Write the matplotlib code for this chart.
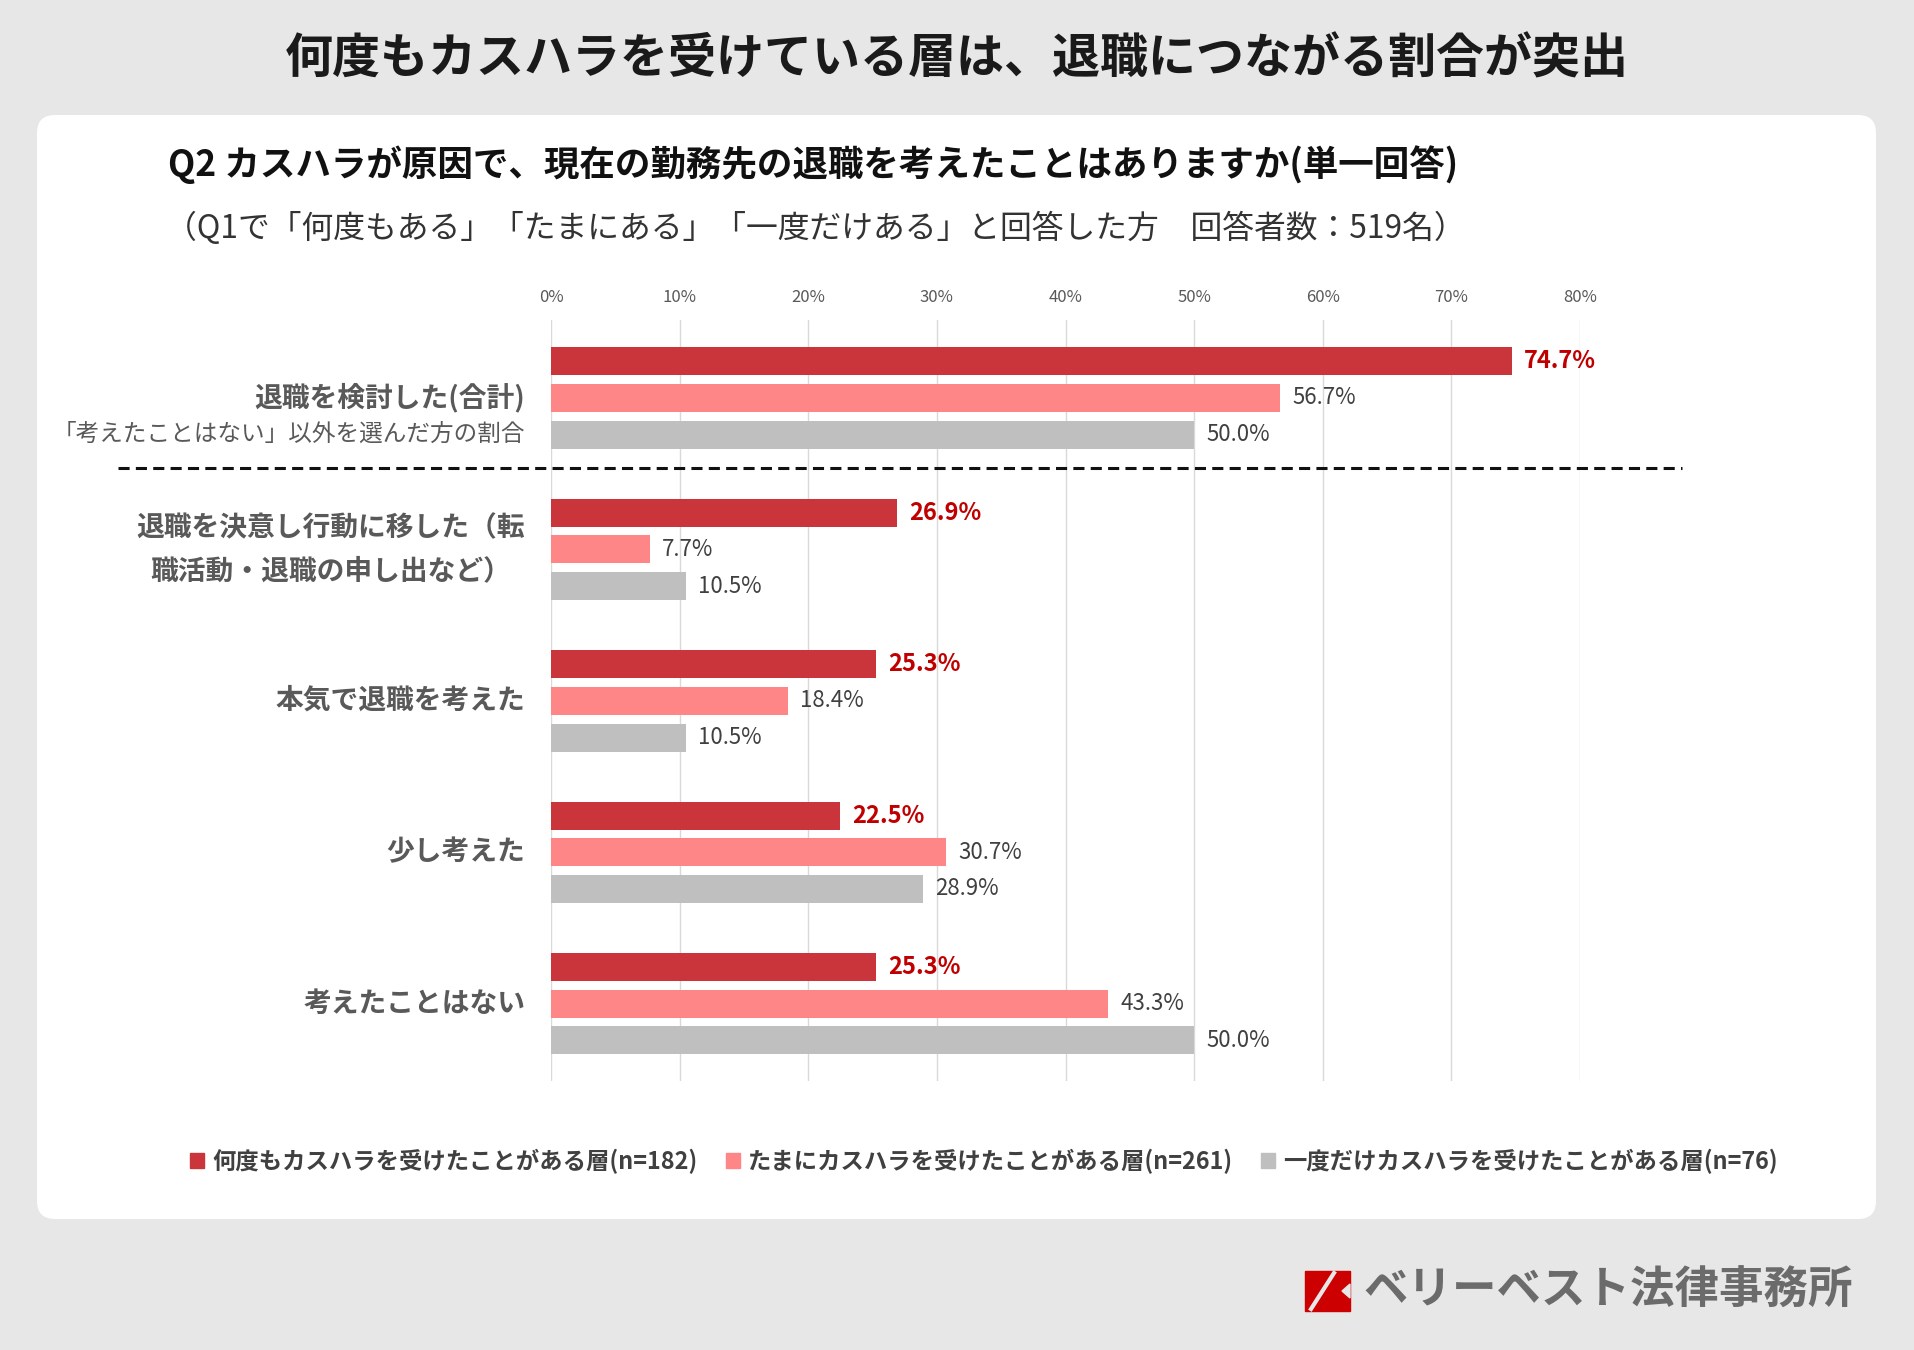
import numpy as np
import matplotlib
matplotlib.use("Agg")
import matplotlib.pyplot as plt
from matplotlib.patches import FancyBboxPatch, Rectangle, Polygon
from matplotlib.lines import Line2D

plt.rcParams['font.family'] = ['Noto Sans CJK JP', 'DejaVu Sans']
plt.rcParams['lines.scale_dashes'] = False

# %%
categories = ['退職を検討した(合計)',
              '退職を決意し行動に移した（転\n職活動・退職の申し出など）',
              '本気で退職を考えた',
              '少し考えた',
              '考えたことはない']
often = [74.7, 26.9, 25.3, 22.5, 25.3]
sometimes = [56.7, 7.7, 18.4, 30.7, 43.3]
once = [50.0, 10.5, 10.5, 28.9, 50.0]
series_labels = ['何度もカスハラを受けたことがある層(n=182)',
                 'たまにカスハラを受けたことがある層(n=261)',
                 '一度だけカスハラを受けたことがある層(n=76)']
xticks = [0, 10, 20, 30, 40, 50, 60, 70, 80]

C_RED = '#C9353A'
C_PINK = '#FF8686'
C_GRAY = '#BFBFBF'
W, H = 1915, 1350


def fx(x):
    return x / W


def fy(y):
    return 1 - y / H


# %%
fig = plt.figure(figsize=(W / 100, H / 100), dpi=100, facecolor='#E7E7E7')

panel = FancyBboxPatch((0.37, 1.31), 18.39, 11.04,
                       boxstyle='round,pad=0,rounding_size=0.18',
                       transform=fig.dpi_scale_trans,
                       facecolor='white', edgecolor='none', zorder=0)
fig.add_artist(panel)

fig.text(fx(957), fy(59), '何度もカスハラを受けている層は、退職につながる割合が突出',
         ha='center', va='center', fontsize=34.6, fontweight='bold', color='#1A1A1A')
fig.text(fx(168), fy(165), 'Q2 カスハラが原因で、現在の勤務先の退職を考えたことはありますか(単一回答)',
         ha='left', va='center', fontsize=25.6, fontweight='bold', color='#111111')
fig.text(fx(165), fy(228),
         '（Q1で「何度もある」「たまにある」「一度だけある」と回答した方　回答者数：519名）',
         ha='left', va='center', fontsize=22.9, color='#333333')

ax = fig.add_axes([fx(551), fy(1081), fx(1580) - fx(551), fy(320) - fy(1081)])
ax.set_facecolor('none')
y = np.arange(len(categories))
off = 0.242
h = 0.185
ax.barh(y - off, often, height=h, color=C_RED, label=series_labels[0], zorder=2)
ax.barh(y, sometimes, height=h, color=C_PINK, label=series_labels[1], zorder=2)
ax.barh(y + off, once, height=h, color=C_GRAY, label=series_labels[2], zorder=2)

ax.set_xlim(0, 80)
ax.set_ylim(len(categories) - 1 + 0.51, -0.515)
ax.set_xticks(xticks)
ax.set_xticklabels([f'{t}%' for t in xticks], fontsize=12, color='#595959')
ax.xaxis.tick_top()
ax.tick_params(axis='x', length=0, pad=10)
ax.set_yticks([])
ax.grid(axis='x', color='#D9D9D9', linewidth=1, zorder=0)
for s in ax.spines.values():
    s.set_visible(False)

for i in range(len(categories)):
    ax.text(often[i] + 0.95, i - off, f'{often[i]:.1f}%', va='center', ha='left',
            fontsize=17, fontweight='bold', color='#C00000', clip_on=False)
    ax.text(sometimes[i] + 0.95, i, f'{sometimes[i]:.1f}%', va='center', ha='left',
            fontsize=16, color='#404040', clip_on=False)
    ax.text(once[i] + 0.95, i + off, f'{once[i]:.1f}%', va='center', ha='left',
            fontsize=16, color='#404040', clip_on=False)

for i, cat in enumerate(categories):
    ax.text(-2.0, i, cat, ha='right', va='center', multialignment='center',
            fontsize=20, fontweight='bold', color='#595959', linespacing=1.7,
            clip_on=False)
ax.text(-2.0, 0.238, '「考えたことはない」以外を選んだ方の割合', ha='right', va='center',
        fontsize=17, color='#595959', clip_on=False)

# separator between total and breakdown
fig.add_artist(Line2D([fx(118), fx(1682)], [fy(468), fy(468)], color='#111111',
                      linewidth=2.2, linestyle=(0, (8, 4.5))))

handles = [Rectangle((0, 0), 1, 1, color=c) for c in (C_RED, C_PINK, C_GRAY)]
leg = fig.legend(handles, series_labels, loc='center', bbox_to_anchor=(fx(984), fy(1161)),
                 ncol=3, frameon=False, handlelength=0.6, handleheight=0.6,
                 handletextpad=0.35, columnspacing=1.2,
                 prop={'size': 16.8, 'weight': 'bold'})
for t in leg.get_texts():
    t.set_color('#404040')

# logo
fig.add_artist(Rectangle((fx(1305), fy(1311)), fx(45), 40 / H, color='#CC0000'))
fig.add_artist(Line2D([fx(1311), fx(1334)], [fy(1309), fy(1273)], color='#E7E7E7', linewidth=3))
fig.add_artist(Polygon([(fx(1342), fy(1291)), (fx(1350), fy(1284)), (fx(1350), fy(1298))],
                       closed=True, color='#E7E7E7'))
fig.text(fx(1363), fy(1291), 'ベリーベスト法律事務所', ha='left', va='center',
         fontsize=32, fontweight='bold', color='#6B6B6B')

fig.savefig('out.png', dpi=100, facecolor=fig.get_facecolor())
